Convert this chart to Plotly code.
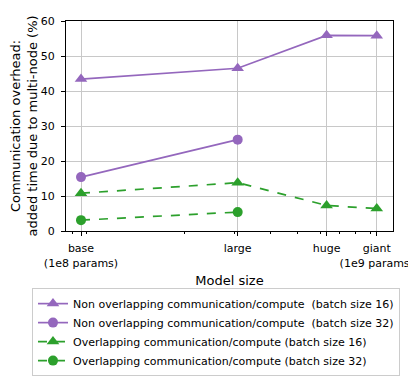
import plotly.graph_objects as go

# model sizes (parameter counts) and their tick labels
params = [86e6, 307e6, 632e6, 950e6]
size_labels = ["base<br>(1e8 params)", "large", "huge", "giant<br>(1e9 params)"]
minor_ticks = [8e7, 9e7, 2e8, 3e8, 4e8, 5e8, 6e8, 7e8, 8e8, 9e8]

# overhead (%) per series
non_overlap_bs16 = [43.4, 46.5, 55.9, 55.8]
non_overlap_bs32 = [15.4, 26.1]
overlap_bs16 = [10.8, 13.8, 7.3, 6.4]
overlap_bs32 = [3.1, 5.4]

PURPLE = "#9467bd"
GREEN = "#2ca02c"

fig = go.Figure()

series = [
    ("Non overlapping communication/compute\u00a0 (batch size 16)", params, non_overlap_bs16, PURPLE, "solid", "triangle-up"),
    ("Non overlapping communication/compute\u00a0 (batch size 32)", params[:2], non_overlap_bs32, PURPLE, "solid", "circle"),
    ("Overlapping communication/compute (batch size 16)", params, overlap_bs16, GREEN, "dash", "triangle-up"),
    ("Overlapping communication/compute (batch size 32)", params[:2], overlap_bs32, GREEN, "dash", "circle"),
]
for name, x, y, color, dash, symbol in series:
    fig.add_trace(
        go.Scatter(
            x=x, y=y, mode="lines+markers", name=name,
            line=dict(color=color, width=1.7, dash=dash),
            marker=dict(color=color, symbol=symbol, size=11 if symbol == "triangle-up" else 10),
        )
    )

fig.update_layout(
    width=416, height=380,
    margin=dict(l=58, r=31, t=13, b=141),
    template="plotly_white",
    font=dict(family="DejaVu Sans", size=11, color="black"),
    legend=dict(
        x=-0.104, y=-0.272, xanchor="left", yanchor="top",
        bordercolor="#cccccc", borderwidth=1,
        font=dict(size=11), tracegroupgap=0,
    ),
)

fig.update_xaxes(
    type="log", range=[7.8816, 9.035],
    tickmode="array", tickvals=params, ticktext=size_labels, tickangle=0,
    ticks="outside", ticklen=4, tickcolor="black", ticklabelstandoff=3,
    showline=True, linecolor="black", mirror=True,
    showgrid=True, gridcolor="#c8c8c8", gridwidth=0.8,
    zeroline=False, automargin=False,
    minor=dict(tickmode="array", tickvals=minor_ticks, ticks="outside",
               ticklen=2, tickcolor="black", showgrid=False),
    title=dict(text="Model size", standoff=7),
)
fig.update_yaxes(
    range=[0, 60], dtick=10,
    ticks="outside", ticklen=4, tickcolor="black", ticklabelstandoff=4,
    showline=True, linecolor="black", mirror=True,
    showgrid=True, gridcolor="#c8c8c8", gridwidth=0.8,
    zeroline=False, automargin=False,
    title=dict(text="Communication overhead:<br>added time due to multi-node (%)", standoff=3),
)

fig.write_html("out.html")
